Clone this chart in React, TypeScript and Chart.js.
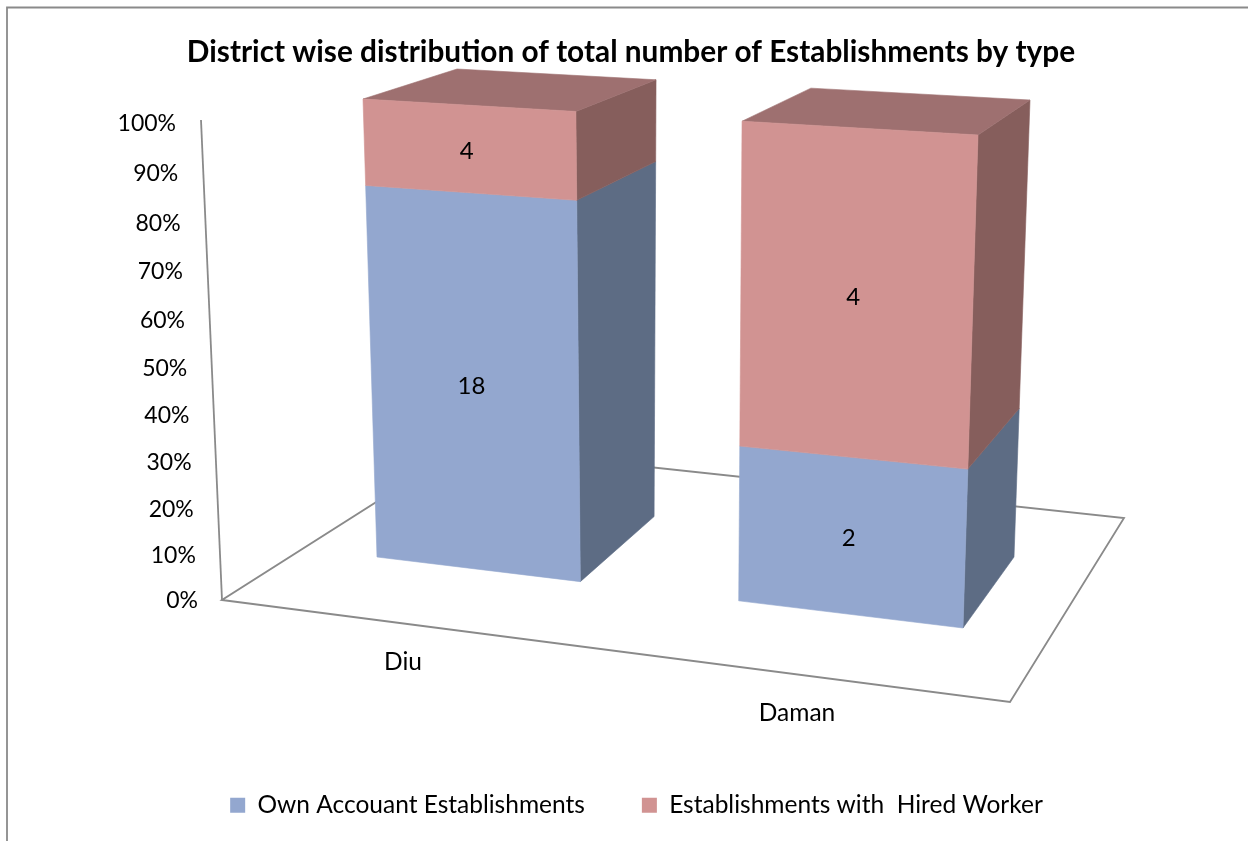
import React, { useEffect, useRef } from "react";
import { Chart, registerables } from "chart.js";

Chart.register(...registerables);

const categories = ["Diu", "Daman"];
const ownAccount = [18, 2];
const hiredWorker = [4, 4];
const seriesNames = ["Own Accouant Establishments", "Establishments with  Hired Worker"];
const chartTitle = "District wise distribution of total number of Establishments by type";

const FONT = "Lato";
const AXIS = "#8a8a8a";

type P = [number, number];

// Square -> quadrilateral projective mapping (the 3D view of the chart's plot planes)
function homography(p00: P, p10: P, p11: P, p01: P) {
  const [x0, y0] = p00, [x1, y1] = p10, [x2, y2] = p11, [x3, y3] = p01;
  const dx1 = x1 - x2, dx2 = x3 - x2, sx = x0 - x1 + x2 - x3;
  const dy1 = y1 - y2, dy2 = y3 - y2, sy = y0 - y1 + y2 - y3;
  const den = dx1 * dy2 - dx2 * dy1;
  const g = (sx * dy2 - dx2 * sy) / den;
  const h = (dx1 * sy - sx * dy1) / den;
  const a = x1 - x0 + g * x1, b = x3 - x0 + h * x3;
  const d = y1 - y0 + g * y1, e = y3 - y0 + h * y3;
  return (s: number, t: number): P => {
    const w = g * s + h * t + 1;
    return [(a * s + b * t + x0) / w, (d * s + e * t + y0) / w];
  };
}

const frontPlane = homography([377, 557], [963, 628], [978, 135], [363, 99]);
const backPlane = homography([462, 495], [1014, 557], [1030, 100], [457, 69]);

const floorCorners: P[] = [[222, 600], [1010, 702], [1124, 518], [463, 447]];
const wallBottom: P = [222, 600];
const wallTop: P = [201, 120];

const faces = [
  { front: "#93A7CF", side: "#5D6C84", top: "#7d8aa5" },
  { front: "#D19392", side: "#865E5C", top: "#9E7070" },
];

function poly(ctx: CanvasRenderingContext2D, pts: P[], color: string) {
  ctx.beginPath();
  pts.forEach((p, i) => (i ? ctx.lineTo(p[0], p[1]) : ctx.moveTo(p[0], p[1])));
  ctx.closePath();
  ctx.fillStyle = color;
  ctx.strokeStyle = color;
  ctx.lineWidth = 0.6;
  ctx.fill();
  ctx.stroke();
}

const view3d = {
  id: "view3d",
  afterLayout(chart: any) {
    // legend placement under the plot, as in the picture
    const lg = chart.legend;
    lg.left += 5.5;
    lg.right += 5.5;
    lg.top = 736;
    lg.bottom = 736 + lg.height;
  },
  beforeDatasetsDraw(chart: any) {
    const ctx: CanvasRenderingContext2D = chart.ctx;
    const area = chart.chartArea;
    const yScale = chart.scales.y;
    const xScale = chart.scales.x;
    ctx.save();

    // outer frame
    ctx.strokeStyle = AXIS;
    ctx.lineWidth = 1.8;
    ctx.beginPath();
    ctx.moveTo(7, 841);
    ctx.lineTo(7, 7.5);
    ctx.lineTo(1248, 7.5);
    ctx.stroke();

    // floor
    ctx.lineWidth = 1.8;
    ctx.beginPath();
    floorCorners.forEach((p, i) => (i ? ctx.lineTo(p[0], p[1]) : ctx.moveTo(p[0], p[1])));
    ctx.closePath();
    ctx.stroke();

    // y axis line
    ctx.beginPath();
    ctx.moveTo(wallBottom[0], wallBottom[1]);
    ctx.lineTo(wallTop[0], wallTop[1]);
    ctx.stroke();

    // y tick labels, following the slanted axis
    ctx.fillStyle = "#000";
    ctx.font = `23px ${FONT}`;
    ctx.textAlign = "right";
    ctx.textBaseline = "middle";
    yScale.ticks.forEach((tick: any) => {
      const v = (yScale.bottom - yScale.getPixelForValue(tick.value)) / (yScale.bottom - yScale.top);
      const f = v / (v + 1.05 * (1 - v));
      ctx.fillText(`${tick.value}%`, 198 - 22 * f, 601 - 477 * f);
    });

    // x category labels, along the floor's front edge
    ctx.font = `24.5px ${FONT}`;
    ctx.textAlign = "center";
    categories.forEach((c, i) => {
      const s = (xScale.getPixelForTick(i) - area.left) / (area.right - area.left);
      const x = floorCorners[0][0] + s * (floorCorners[1][0] - floorCorners[0][0]);
      const y = floorCorners[0][1] + s * (floorCorners[1][1] - floorCorners[0][1]);
      ctx.fillText(c, x - 16, y + 37);
    });

    // bars
    const m0 = chart.getDatasetMeta(0).data;
    const last = m0[m0.length - 1];
    const ua = m0[0].x - m0[0].width / 2;
    const ub = last.x + last.width / 2;
    const S = (px: number) => (px - ua) / (ub - ua);
    const T = (py: number) => (yScale.bottom - py) / (yScale.bottom - yScale.top);
    const labels: { text: string; at: P }[] = [];

    categories.forEach((_, ci) => {
      chart.data.datasets.forEach((ds: any, di: number) => {
        const el = chart.getDatasetMeta(di).data[ci];
        const s0 = S(el.x - el.width / 2), s1 = S(el.x + el.width / 2);
        const t0 = T(el.base), t1 = T(el.y);
        poly(ctx, [frontPlane(s1, t0), frontPlane(s1, t1), backPlane(s1, t1), backPlane(s1, t0)], faces[di].side);
        if (di === chart.data.datasets.length - 1) {
          poly(ctx, [frontPlane(s0, t1), frontPlane(s1, t1), backPlane(s1, t1), backPlane(s0, t1)], faces[di].top);
        }
        poly(ctx, [frontPlane(s0, t0), frontPlane(s1, t0), frontPlane(s1, t1), frontPlane(s0, t1)], faces[di].front);
        labels.push({ text: String(ds.counts[ci]), at: frontPlane((s0 + s1) / 2, (t0 + t1) / 2) });
      });
    });

    ctx.fillStyle = "#000";
    ctx.font = `24px ${FONT}`;
    ctx.textAlign = "center";
    ctx.textBaseline = "middle";
    labels.forEach((l) => ctx.fillText(l.text, l.at[0] - 2, l.at[1] + 2));
    ctx.restore();
  },
  // the flat bars are replaced by the 3D faces above
  beforeDatasetDraw() {
    return false;
  },
};

const totals = categories.map((_, i) => ownAccount[i] + hiredWorker[i]);

export default function App() {
  const ref = useRef<HTMLCanvasElement>(null);
  useEffect(() => {
    if (!ref.current) return;
    const chart = new Chart(ref.current, {
      type: "bar",
      data: {
        labels: categories,
        datasets: [
          {
            label: seriesNames[0],
            data: ownAccount.map((v, i) => (v / totals[i]) * 100),
            counts: ownAccount,
            backgroundColor: faces[0].front,
          } as any,
          {
            label: seriesNames[1],
            data: hiredWorker.map((v, i) => (v / totals[i]) * 100),
            counts: hiredWorker,
            backgroundColor: faces[1].front,
          } as any,
        ],
      },
      options: {
        responsive: false,
        animation: false,
        layout: { padding: { left: 14, right: 0, top: 0, bottom: 100 } },
        datasets: { bar: { barPercentage: 0.574, categoryPercentage: 1 } },
        scales: {
          x: { stacked: true, display: true, grid: { display: false }, border: { display: false }, ticks: { display: false } },
          y: {
            stacked: true,
            min: 0,
            max: 100,
            grid: { display: false },
            border: { display: false },
            ticks: { stepSize: 10, display: false },
          },
        },
        plugins: {
          title: {
            display: true,
            text: chartTitle,
            color: "#000",
            font: { family: FONT, size: 29.8, weight: "bold" },
            padding: { top: 35, bottom: 50 },
          },
          legend: {
            display: true,
            position: "bottom",
            labels: {
              color: "#000",
              font: { family: FONT, size: 24.5 },
              boxWidth: 15,
              boxHeight: 15,
              padding: 57,
            },
          },
          tooltip: { enabled: false },
        },
      },
      plugins: [view3d],
    } as any);
    return () => chart.destroy();
  }, []);
  return (
    <canvas
      ref={ref}
      width={1248}
      height={841}
      style={{ position: "fixed", left: 0, top: 0, width: 1248, height: 841 }}
    />
  );
}
